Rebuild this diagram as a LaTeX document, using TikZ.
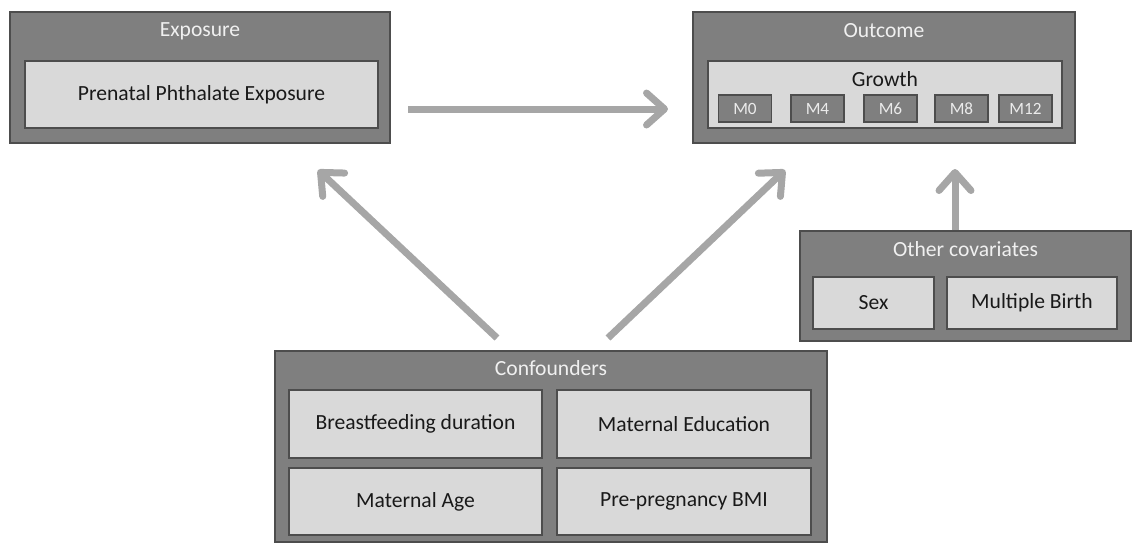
\documentclass[tikz,border=0pt]{standalone}
\usepackage{fontspec}
\setmainfont{Carlito}
\usetikzlibrary{arrows.meta}

\definecolor{boxdark}{HTML}{7F7F7F}
\definecolor{boxlight}{HTML}{D9D9D9}
\definecolor{boxline}{HTML}{4D4D4D}
\definecolor{arrowgray}{HTML}{A6A6A6}

\tikzset{
  outerbox/.style={draw=boxline, line width=0.8pt, fill=boxdark, inner sep=0pt},
  innerbox/.style={draw=boxline, line width=0.8pt, fill=boxlight, inner sep=0pt, font=\fontsize{10.8}{13}\selectfont, text=black!90},
  mbox/.style={draw=boxline, line width=0.6pt, fill=boxdark, inner sep=0pt, minimum width=26.5pt, minimum height=13.5pt, font=\fontsize{8.6}{10}\selectfont, text=white!92!black},
  title/.style={font=\fontsize{10.8}{13}\selectfont, text=white!94!black, inner sep=0pt},
  bigarrow/.style={draw=arrowgray, line width=3.5pt, -{Straight Barb[length=9pt, width=16pt, line cap=round, line join=round]}}
}

\begin{document}
\begin{tikzpicture}[x=0.5pt, y=-0.5pt]
  \useasboundingbox (0,0) rectangle (1132,543);

  % exposure
  \node[outerbox, minimum width=190pt, minimum height=65.5pt] (expo) at (200,77.5) {};
  \node[title] (expotitle) at (200,31) {Exposure};
  \node[innerbox, minimum width=176.5pt, minimum height=33.5pt] (phth) at (201.5,94.5) {Prenatal Phthalate Exposure};

  % outcome
  \node[outerbox, minimum width=191pt, minimum height=65.5pt] (outc) at (884,77.5) {};
  \node[title] (outctitle) at (884,31) {Outcome};
  \node[innerbox, minimum width=177pt, minimum height=33.5pt] (growth) at (885,94.5) {};
  \node[innerbox, draw=none, fill=none] (growthlabel) at (885,79) {Growth};
  \foreach \m/\x in {0/745,4/817.5,6/890.5,8/961.5,12/1025.5}
    \node[mbox] (m\m) at (\x,108.5) {M\m};

  % other covariates
  \node[outerbox, minimum width=165.5pt, minimum height=55pt] (other) at (965.5,286) {};
  \node[title] (othertitle) at (965.5,249) {Other covariates};
  \node[innerbox, minimum width=60.5pt, minimum height=26pt] (sex) at (873.5,303) {Sex};
  \node[innerbox, minimum width=85pt, minimum height=26pt] (mult) at (1032,303) {Multiple Birth};

  % confounders
  \node[outerbox, minimum width=276pt, minimum height=95.5pt] (conf) at (551,446.5) {};
  \node[title] (conftitle) at (551,368) {Confounders};
  \node[innerbox, minimum width=126.5pt, minimum height=34pt] (breast) at (415.5,424) {Breastfeeding duration};
  \node[innerbox, minimum width=127pt, minimum height=34pt] (educ) at (684,424) {Maternal Education};
  \node[innerbox, minimum width=126.5pt, minimum height=33.5pt] (age) at (415.5,501.5) {Maternal Age};
  \node[innerbox, minimum width=127pt, minimum height=33.5pt] (bmi) at (684,501.5) {Pre-pregnancy BMI};

  % arrow ends
  \coordinate (expoout) at (408,109);
  \coordinate (outcin) at (668,109);
  \coordinate (confleft) at (497,338);
  \coordinate (expoin) at (318,170);
  \coordinate (confright) at (608,338);
  \coordinate (outcleft) at (785,170);
  \coordinate (outcbelow) at (955,169);

  \draw[bigarrow] (expoout) -- (outcin);
  \draw[bigarrow] (confleft) -- (expoin);
  \draw[bigarrow] (confright) -- (outcleft);
  \draw[bigarrow] (other.north -| outcbelow) -- (outcbelow);
\end{tikzpicture}
\end{document}
